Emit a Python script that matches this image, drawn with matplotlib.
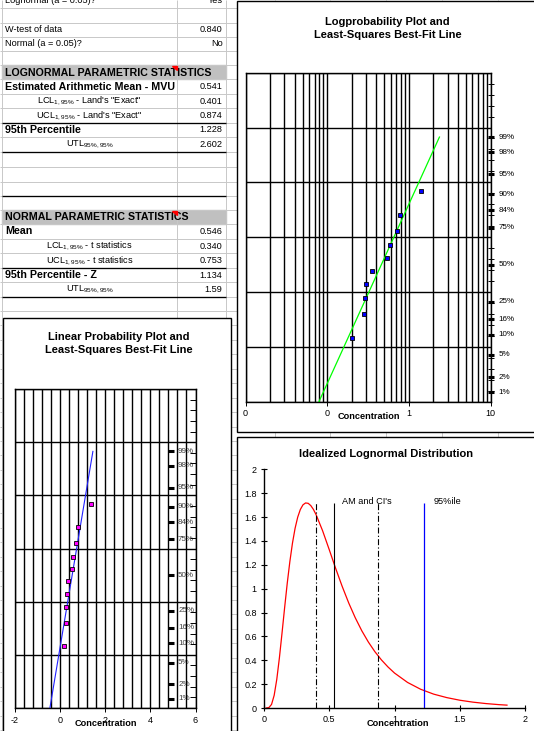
import statistics
import numpy as np
import matplotlib
matplotlib.use("Agg")
import matplotlib.pyplot as plt
from matplotlib.patches import Rectangle, Polygon
from matplotlib.ticker import FixedLocator, NullFormatter

plt.rcParams['font.family'] = ['Liberation Sans', 'DejaVu Sans']
plt.rcParams['mathtext.fontset'] = 'custom'
plt.rcParams['mathtext.rm'] = 'Liberation Sans'
plt.rcParams['mathtext.default'] = 'regular'
plt.rcParams['lines.scale_dashes'] = False
plt.rcParams['axes.unicode_minus'] = False

# sample concentrations, sorted
conc = [0.20, 0.28, 0.29, 0.30, 0.35, 0.54, 0.59, 0.72, 0.79, 1.40]

# probability labels on the right of both probability plots
pct_labels = [1, 2, 5, 10, 16, 25, 50, 75, 84, 90, 95, 98, 99]

# idealized lognormal curve
pdf_x = [0.02, 0.04, 0.06, 0.08, 0.10, 0.12, 0.14, 0.16, 0.18, 0.20, 0.22, 0.24,
         0.26, 0.28, 0.30, 0.32, 0.34, 0.36, 0.38, 0.40, 0.45, 0.50, 0.55, 0.60,
         0.65, 0.70, 0.75, 0.80, 0.85, 0.90, 0.95, 1.00, 1.10, 1.20, 1.30, 1.40,
         1.50, 1.60, 1.70, 1.80, 1.86]
pdf_y = [0.000, 0.004, 0.030, 0.106, 0.240, 0.420, 0.627, 0.841, 1.045, 1.227,
         1.382, 1.506, 1.599, 1.663, 1.702, 1.718, 1.715, 1.696, 1.664, 1.621,
         1.486, 1.330, 1.170, 1.019, 0.880, 0.756, 0.647, 0.553, 0.472, 0.403,
         0.344, 0.293, 0.214, 0.157, 0.116, 0.087, 0.065, 0.049, 0.037, 0.028,
         0.024]

lcl_val = 0.401
am_val = 0.541
ucl_val = 0.874
p95_val = 1.228

# spreadsheet rows: (row, label, value, style)
table_rows = [
    (0, "Lognormal (a = 0.05)?", "Yes", "left"),
    (2, "W-test of data", "0.840", "left"),
    (3, "Normal (a = 0.05)?", "No", "left"),
    (5, "LOGNORMAL PARAMETRIC STATISTICS", "", "band"),
    (6, "Estimated Arithmetic Mean - MVU", "0.541", "bold"),
    (7, "LCL$_{1,95\\%}$ - Land's \"Exact\"", "0.401", "center"),
    (8, "UCL$_{1,95\\%}$ - Land's \"Exact\"", "0.874", "center"),
    (9, "95th Percentile", "1.228", "bold"),
    (10, "UTL$_{95\\%,95\\%}$", "2.602", "center"),
    (15, "NORMAL PARAMETRIC STATISTICS", "", "band"),
    (16, "Mean", "0.546", "bold"),
    (17, "LCL$_{1,95\\%}$ - t statistics", "0.340", "center"),
    (18, "UCL$_{1,95\\%}$ - t statistics", "0.753", "center"),
    (19, "95th Percentile - Z", "1.134", "bold"),
    (20, "UTL$_{95\\%,95\\%}$", "1.59", "center"),
]
black_rule_rows = [9, 11, 14, 19, 21]

W, H = 534, 731
fig = plt.figure(figsize=(W / 100, H / 100), dpi=100)
fig.patch.set_facecolor('white')


def px_axes(x0, y0, x1, y1):
    return fig.add_axes([x0 / W, 1 - y1 / H, (x1 - x0) / W, (y1 - y0) / H])


# ---- spreadsheet background ----
bg = fig.add_axes([0, 0, 1, 1])
bg.set_xlim(0, W)
bg.set_ylim(H, 0)
bg.axis('off')

edges = [-6.4, 8, 22.7, 36.7, 51, 65.3, 79.3, 94, 108.3, 122.7, 136.7, 151.7,
         166.7, 181.7, 196, 210, 224, 239, 253.3, 267.7, 282.3, 296.7, 311]
while edges[-1] < H + 20:
    edges.append(edges[-1] + 14.45)
col_x = [1.7, 177.3, 225.7, 274.5, 330, 386, 442, 498]

bg.hlines(edges[1:], 0, W, color='#c8c8c8', lw=0.7)
bg.vlines(col_x, 0, H, color='#c8c8c8', lw=0.7)

for row, label, value, style in table_rows:
    yc = (edges[row] + edges[row + 1]) / 2
    if style == "band":
        bg.add_patch(Rectangle((2, edges[row]), 223.5, edges[row + 1] - edges[row],
                               color='#c0c0c0', zorder=1))
        bg.text(5, yc + 0.3, label, fontsize=7.7, fontweight='bold', va='center', zorder=3)
        bg.add_patch(Polygon([(171.8, edges[row] + 0.8), (176.8, edges[row] + 0.8),
                              (176.8, edges[row] + 5)], color='red', zorder=4))
        continue
    if style == "bold":
        bg.text(5, yc, label, fontsize=7.7, fontweight='bold', va='center', zorder=3)
    elif style == "center":
        bg.text(89.5, yc, label, fontsize=6.6, ha='center', va='center', zorder=3)
    else:
        bg.text(5, yc, label, fontsize=6.6, va='center', zorder=3)
    bg.text(222.5, yc, value, fontsize=6.6, ha='right', va='center', zorder=3)

for r in black_rule_rows:
    bg.hlines(edges[r], 2, 225.7, color='black', lw=0.95, zorder=3)

# chart boxes
for (x0, y0, x1, y1) in [(237, 1, 540, 431.5), (237, 437.3, 540, 745),
                         (2.7, 317.7, 231, 745)]:
    bg.add_patch(Rectangle((x0, y0), x1 - x0, y1 - y0, facecolor='white',
                           edgecolor='black', lw=1.0, zorder=5))

bg.text(387.7, 21.7, "Logprobability Plot and", fontsize=8, fontweight='bold',
        ha='center', va='center', zorder=6)
bg.text(387.7, 34.5, "Least-Squares Best-Fit Line", fontsize=8, fontweight='bold',
        ha='center', va='center', zorder=6)
bg.text(119, 337.3, "Linear Probability Plot and", fontsize=8, fontweight='bold',
        ha='center', va='center', zorder=6)
bg.text(119, 350.3, "Least-Squares Best-Fit Line", fontsize=8, fontweight='bold',
        ha='center', va='center', zorder=6)
bg.text(386, 454, "Idealized Lognormal Distribution", fontsize=8, fontweight='bold',
        ha='center', va='center', zorder=6)
bg.text(369, 416.7, "Concentration", fontsize=6.6, fontweight='bold',
        ha='center', va='center', zorder=6)
bg.text(106, 724, "Concentration", fontsize=6.6, fontweight='bold',
        ha='center', va='center', zorder=6)
bg.text(398, 724, "Concentration", fontsize=6.6, fontweight='bold',
        ha='center', va='center', zorder=6)

# plotting positions
nd = statistics.NormalDist()
n = len(conc)
zpos = np.array([nd.inv_cdf((i + 1) / (n + 1)) for i in range(n)])
zlab = np.array([nd.inv_cdf(p / 100) for p in pct_labels])
z_line = np.array([nd.inv_cdf(0.005), nd.inv_cdf(0.99)])
z_minor = np.arange(-2.5, 3.51, 0.2)


def prob_frame(ax):
    ax.set_ylim(-2.5, 3.5)
    for s in ax.spines.values():
        s.set_color('black')
        s.set_linewidth(1.0)
    ax.yaxis.set_major_locator(FixedLocator(np.arange(-2.5, 3.6, 1.0)))
    ax.yaxis.set_minor_locator(FixedLocator(z_minor))
    ax.yaxis.tick_right()
    ax.tick_params(axis='y', which='major', length=0, labelright=False)
    ax.tick_params(axis='y', which='minor', length=4, width=0.7, direction='inout')
    ax.yaxis.set_minor_formatter(NullFormatter())
    ax.grid(True, which='major', axis='y', color='black', lw=1.0)


# ---- logprobability plot ----
ax1 = px_axes(245.5, 72.7, 490.5, 401.7)
ax1.set_xscale('log')
ax1.set_xlim(0.01, 10)
prob_frame(ax1)
ax1.xaxis.set_major_locator(FixedLocator([0.01, 0.1, 1, 10]))
ax1.xaxis.set_minor_locator(FixedLocator([k * 10.0 ** d for d in (-2, -1, 0)
                                          for k in range(2, 10)]))
ax1.set_xticklabels(['0', '0', '1', '10'])
ax1.xaxis.set_minor_formatter(NullFormatter())
ax1.tick_params(axis='x', which='major', length=3, width=0.7, direction='out',
                labelsize=6.5, pad=2)
ax1.tick_params(axis='x', which='minor', length=0)
ax1.grid(True, which='both', axis='x', color='black', lw=1.0)
b1, b0 = np.polyfit(zpos, np.log10(conc), 1)
ax1.plot(10 ** (b0 + b1 * z_line), z_line, color='#00ff00', lw=0.9, zorder=4)
ax1.plot(conc, zpos, 's', ms=3.4, mfc='#0000ff', mec='black', mew=0.6, zorder=5)
ax1.plot([10] * len(zlab), zlab, ls='none', marker='_', ms=4, mew=2.2, color='black',
         clip_on=False, zorder=6)
for p, z in zip(pct_labels, zlab):
    ax1.annotate(f"{p}%", (10, z), xytext=(8, 0), textcoords='offset pixels',
                 fontsize=5.8, va='center', ha='left', annotation_clip=False)

# ---- linear probability plot ----
ax2 = px_axes(14.6, 389, 195.5, 708)
ax2.set_xlim(-2, 6)
prob_frame(ax2)
ax2.xaxis.set_major_locator(FixedLocator([-2, 0, 2, 4, 6]))
ax2.xaxis.set_minor_locator(FixedLocator(np.arange(-2, 6.01, 0.4)))
ax2.xaxis.set_minor_formatter(NullFormatter())
ax2.tick_params(axis='x', which='major', length=3, width=0.7, direction='out',
                labelsize=6.5, pad=3)
ax2.tick_params(axis='x', which='minor', length=0)
ax2.tick_params(axis='y', which='minor', direction='in')
ax2.grid(True, which='both', axis='x', color='black', lw=1.0)
c1, c0 = np.polyfit(zpos, conc, 1)
ax2.plot(c0 + c1 * z_line, z_line, color='#2020ff', lw=0.8, zorder=4)
ax2.plot(conc, zpos, 's', ms=3.4, mfc='#ff00ff', mec='black', mew=0.6, zorder=5)
ax2.plot([4.92] * len(zlab), zlab, ls='none', marker='_', ms=4, mew=2.2,
         color='black', zorder=1)
for p, z in zip(pct_labels, zlab):
    ax2.annotate(f"{p}%", (4.92, z), xytext=(7, 0), textcoords='offset pixels',
                 fontsize=5.8, va='center', ha='left', color='#404040', zorder=1)

# ---- idealized lognormal distribution ----
ax3 = px_axes(263.7, 469.3, 525.3, 708)
ax3.set_xlim(0, 2)
ax3.set_ylim(0, 2)
ax3.patch.set_alpha(0)
ax3.spines['top'].set_visible(False)
ax3.spines['right'].set_visible(False)
for s in ('left', 'bottom'):
    ax3.spines[s].set_linewidth(1.0)
ax3.set_xticks([0, 0.5, 1, 1.5, 2])
ax3.set_xticklabels(['0', '0.5', '1', '1.5', '2'])
ax3.set_yticks(np.arange(0, 2.01, 0.2))
ax3.set_yticklabels(['0', '0.2', '0.4', '0.6', '0.8', '1', '1.2', '1.4', '1.6', '1.8', '2'])
ax3.tick_params(length=4, width=0.8, direction='inout', labelsize=6.5, pad=3)
top = max(pdf_y)
ax3.plot(pdf_x, pdf_y, color='red', lw=0.9)
ax3.vlines([lcl_val, ucl_val], 0, top, colors='black', lw=0.8,
           linestyles=[(0, (4.3, 1.6, 0.9, 1.6))])
ax3.vlines([am_val], 0, top, colors='black', lw=0.8)
ax3.vlines([p95_val], 0, top, colors='#0000ff', lw=0.9)
ax3.text(0.6, top + 0.01, "AM and CI's", fontsize=6.6, va='center', ha='left')
ax3.text(1.3, top + 0.01, "95%ile", fontsize=6.6, va='center', ha='left')

fig.savefig("out.png", dpi=100, facecolor='white')
